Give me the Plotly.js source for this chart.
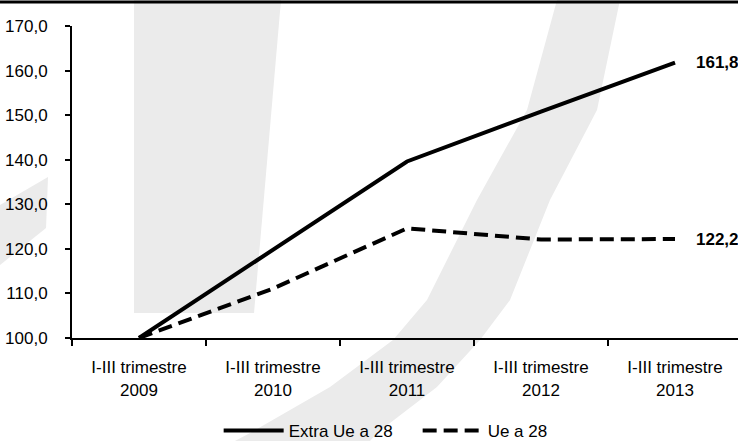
<!DOCTYPE html>
<html>
<head>
<meta charset="utf-8">
<script src="https://cdn.plot.ly/plotly-3.0.1.min.js"></script>
<style>
  html, body { margin: 0; padding: 0; background: #ffffff; }
  #chart { width: 738px; height: 441px; }
</style>
</head>
<body>
<div id="chart"></div>
<script>
// Index numbers, I-III trimestre 2009 = 100
var periods = ['2009', '2010', '2011', '2012', '2013'];
var tickLabels = ['I-III trimestre<br>2009', 'I-III trimestre<br>2010', 'I-III trimestre<br>2011',
                  'I-III trimestre<br>2012', 'I-III trimestre<br>2013'];
var extraUe28 = [100.0, 119.8, 139.6, 150.8, 161.8];
var ue28 = [100.0, 111.1, 124.6, 122.1, 122.2];
var seriesNames = ['Extra Ue a 28', 'Ue a 28'];

var FONT = '"Liberation Sans", Arial, sans-serif';
var FS = 17;
var M = { l: 72, r: 0, t: 26, b: 103, autoexpand: false };
var W = 738, H = 441;
var plotW = W - M.l - M.r, plotH = H - M.t - M.b;

// page pixels -> paper coordinates (for the background logo outline)
function px(x) { return ((x - M.l) / plotW).toFixed(4); }
function py(y) { return ((H - M.b - y) / plotH).toFixed(4); }
function pathFrom(points) {
  return points.map(function (p, i) { return (i ? 'L' : 'M') + px(p[0]) + ',' + py(p[1]); }).join(' ') + ' Z';
}

// faint logo behind the plot
var logoStem = [[134, 0], [281, 0], [254, 313], [134, 313]];
var logoFoot = [[0, 205], [48, 177], [46, 228], [0, 265]];
var logoArc = [[557, 0], [527, 110], [477, 200], [427, 300], [393, 340], [330, 387], [250, 433], [235, 441],
               [370, 441], [377, 433], [437, 387], [480, 340], [510, 300], [550, 200], [597, 110], [620, 0]];

var logoShapes = [logoStem, logoFoot, logoArc].map(function (pts) {
  return { type: 'path', xref: 'paper', yref: 'paper', layer: 'below',
           path: pathFrom(pts), fillcolor: '#ebebeb', line: { width: 0 } };
});

var fmt = function (v) { return v.toFixed(1).replace('.', ','); };

var traces = [
  { x: periods, y: extraUe28, name: seriesNames[0], type: 'scatter', mode: 'lines',
    line: { color: '#000000', width: 4 }, hoverinfo: 'skip' },
  { x: periods, y: ue28, name: seriesNames[1], type: 'scatter', mode: 'lines',
    line: { color: '#000000', width: 4, dash: '14px,7px' }, hoverinfo: 'skip' }
];

// value labels at the end of each line (category index on the x axis)
var last = periods.length - 1;
var endLabels = [extraUe28, ue28].map(function (s) {
  return { xref: 'x', yref: 'y', x: last, y: s[last], text: '<b>' + fmt(s[last]) + '</b>', showarrow: false,
           xanchor: 'left', yanchor: 'middle', xshift: 19,
           font: { family: FONT, size: FS, color: '#000000' } };
});

var layout = {
  width: W, height: H,
  margin: M,
  paper_bgcolor: '#ffffff', plot_bgcolor: 'rgba(0,0,0,0)',
  separators: ',.',
  font: { family: FONT, size: FS, color: '#000000' },
  showlegend: true,
  legend: { orientation: 'h', x: 0.519, xanchor: 'center', y: -0.298, yanchor: 'middle',
            font: { family: FONT, size: FS, color: '#000000' }, itemwidth: 60,
            entrywidth: 124, entrywidthmode: 'pixels',
            bgcolor: 'rgba(0,0,0,0)' },
  xaxis: {
    type: 'category', range: [-0.5, last + 0.47], tickmode: 'array', tickvals: periods, ticktext: tickLabels,
    tickson: 'boundaries', ticks: 'outside', ticklen: 6, tickwidth: 2, tickcolor: '#000000',
    ticklabelstandoff: 13,
    showline: true, linecolor: '#000000', linewidth: 2, showgrid: false, zeroline: false,
    fixedrange: true
  },
  yaxis: {
    range: [100, 170], dtick: 10, tick0: 100, tickformat: '.1f',
    ticks: 'outside', ticklen: 5, tickwidth: 2, tickcolor: '#000000', ticklabelstandoff: 14,
    showline: true, linecolor: '#000000', linewidth: 2, showgrid: false, zeroline: false,
    fixedrange: true
  },
  shapes: logoShapes.concat([
    { type: 'line', xref: 'paper', yref: 'paper', x0: px(0), x1: 1, y0: py(2), y1: py(2),
      line: { color: '#000000', width: 3 } }
  ]),
  annotations: endLabels
};

Plotly.newPlot('chart', traces, layout, { displayModeBar: false, staticPlot: true });
</script>
</body>
</html>
